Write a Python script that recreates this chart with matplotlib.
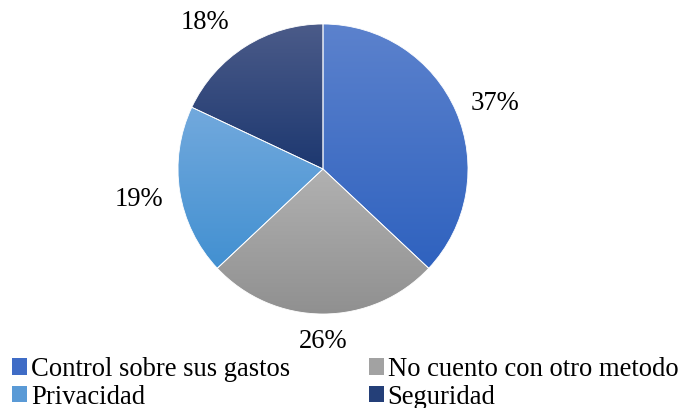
import numpy as np
import matplotlib.pyplot as plt
from matplotlib.colors import LinearSegmentedColormap
from matplotlib.patches import Patch

categories = ["Control sobre sus gastos", "No cuento con otro metodo", "Privacidad", "Seguridad"]
values = [37, 26, 19, 18]
# top / bottom colour of each wedge's vertical gradient
top_colors = ["#5c82cd", "#b1b1b1", "#72a9dd", "#4b5b89"]
bottom_colors = ["#2f62bf", "#909090", "#4290d1", "#1d3870"]
legend_colors = ["#3f6cc6", "#a2a2a2", "#5a9ad6", "#243f78"]
# label radius (in pie radii) and angular nudge (degrees) off the wedge middle
label_dist = [1.27, 1.19, 1.29, 1.30]
label_nudge = [-2.4, 0.0, 0.5, 6.4]

plt.rcParams['font.family'] = ['Liberation Serif', 'DejaVu Serif']
FS = 19.2

fig = plt.figure(figsize=(6.81, 4.08), dpi=100)
R = 145
ax = fig.add_axes([(323 - R) / 681, (408 - 169 - R) / 408, 2 * R / 681, 2 * R / 408])

wedges, _ = ax.pie(values, startangle=90, counterclock=False, radius=1,
                   wedgeprops=dict(linewidth=0.6, edgecolor="white"))
ax.set_xlim(-1, 1)
ax.set_ylim(-1, 1)
ax.set_aspect("equal")
ax.axis("off")

grad = np.linspace(1, 0, 256).reshape(-1, 1)
for w, c0, c1 in zip(wedges, top_colors, bottom_colors):
    w.set_facecolor("none")
    bb = w.get_path().get_extents(w.get_patch_transform())
    cmap = LinearSegmentedColormap.from_list("g", [c1, c0])
    im = ax.imshow(grad, cmap=cmap, aspect="auto", origin="upper",
                   extent=[bb.x0, bb.x1, bb.y0, bb.y1], zorder=0.5)
    im.set_clip_path(w)

for w, v, d, n in zip(wedges, values, label_dist, label_nudge):
    mid = np.deg2rad((w.theta1 + w.theta2) / 2 + n)
    ax.text(d * np.cos(mid), d * np.sin(mid), f"{v}%", ha="center", va="center",
            fontsize=FS, clip_on=False)

# legend fills column-wise, so order entries to read across rows
order = [0, 2, 1, 3]
handles = [Patch(facecolor=legend_colors[i], edgecolor="none") for i in order]
fig.legend(handles, [categories[i] for i in order], ncol=2, loc="upper left",
           bbox_to_anchor=(12 / 681, 1 - 357 / 408), frameon=False, fontsize=FS,
           handlelength=0.56, handleheight=0.56, handletextpad=0.15,
           labelspacing=0.1, columnspacing=2.95, borderpad=0, borderaxespad=0)

fig.savefig("out.png", dpi=100)
